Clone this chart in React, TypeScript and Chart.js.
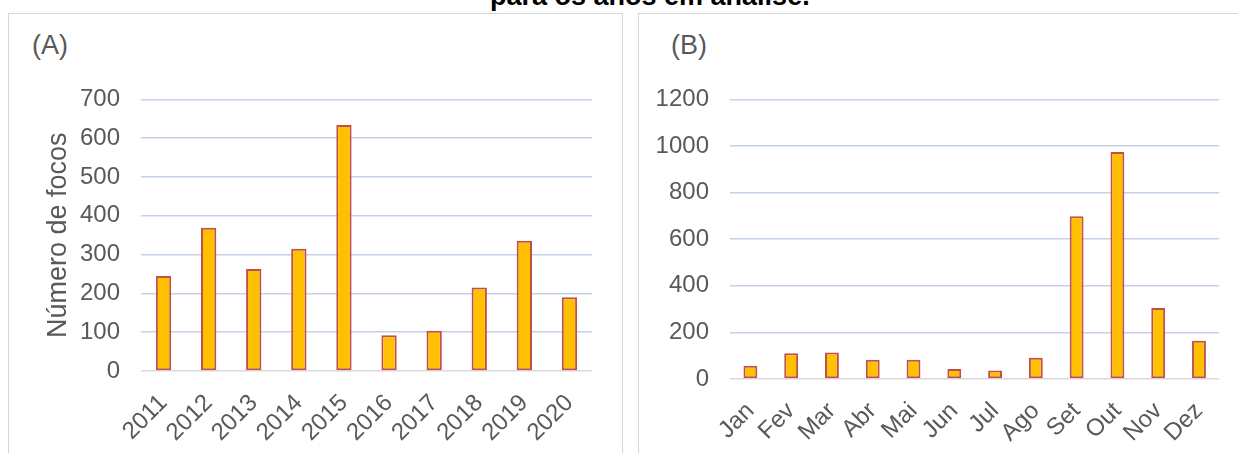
import React, { useEffect, useRef } from "react";
import Chart from "chart.js/auto";

// ---- Data ----
const anos: string[] = ["2011", "2012", "2013", "2014", "2015", "2016", "2017", "2018", "2019", "2020"];
const focosPorAno: number[] = [245, 369, 263, 315, 634, 92, 104, 215, 336, 190];

const meses: string[] = ["Jan", "Fev", "Mar", "Abr", "Mai", "Jun", "Jul", "Ago", "Set", "Out", "Nov", "Dez"];
const focosPorMes: number[] = [57, 110, 114, 83, 83, 43, 36, 91, 698, 974, 305, 164];

const yMaxAno = 700;
const yStepAno = 100;
const yMaxMes = 1200;
const yStepMes = 200;

const tituloY = "Número de focos";
const tituloFigura = "para os anos em análise.";

const FONT = "'Liberation Sans', Arial, Helvetica, sans-serif";
const TEXT = "#595959";

type Cfg = {
  labels: string[];
  values: number[];
  max: number;
  step: number;
  yTitle?: string;
  yWidth: number;
  xHeight: number;
  padRight: number;
  padTop: number;
};

function BarChart(props: Cfg & { style: React.CSSProperties; w: number; h: number }) {
  const ref = useRef<HTMLCanvasElement | null>(null);
  useEffect(() => {
    if (!ref.current) return;
    const c = props;
    const chart = new Chart(ref.current, {
      type: "bar",
      data: {
        labels: c.labels,
        datasets: [
          {
            data: c.values,
            backgroundColor: "#FFC000",
            borderColor: "#C0504D",
            borderWidth: 2,
            borderSkipped: false,
            barPercentage: 0.34,
            categoryPercentage: 1,
          },
        ],
      },
      options: {
        animation: false,
        responsive: false,
        devicePixelRatio: 1,
        events: [],
        layout: { padding: { left: 0, right: c.padRight, top: c.padTop, bottom: 0 } },
        plugins: { legend: { display: false }, tooltip: { enabled: false } },
        scales: {
          x: {
            grid: { display: false, drawTicks: false },
            border: { display: false },
            ticks: {
              autoSkip: false,
              minRotation: 45,
              maxRotation: 45,
              padding: 18,
              color: TEXT,
              font: { family: FONT, size: 24 },
            },
            afterFit: (s: any) => {
              s.height = c.xHeight;
            },
          },
          y: {
            min: 0,
            max: c.max,
            border: { display: false },
            grid: {
              drawTicks: false,
              lineWidth: 1.5,
              color: (ctx: any) => (ctx.tick && ctx.tick.value === 0 ? "#d9d9d9" : "#c3d2e7"),
            },
            ticks: {
              stepSize: c.step,
              padding: 21,
              color: TEXT,
              font: { family: FONT, size: 24 },
              callback: (v: any) => String(v),
            },
            title: {
              display: !!c.yTitle,
              text: c.yTitle || "",
              color: TEXT,
              font: { family: FONT, size: 27 },
              padding: { top: 32, bottom: 0 },
            },
            afterFit: (s: any) => {
              s.width = c.yWidth;
            },
          },
        },
      },
    });
    return () => chart.destroy();
  }, []);
  return <canvas ref={ref} width={props.w} height={props.h} style={{ ...props.style, width: props.w, height: props.h }} />;
}

export default function App() {
  const panelBase: React.CSSProperties = {
    position: "absolute",
    top: 13,
    height: 460,
    boxSizing: "border-box",
    border: "1.5px solid #d6d6d6",
    background: "#fff",
  };
  const label: React.CSSProperties = {
    position: "absolute",
    fontFamily: FONT,
    fontSize: 27,
    color: TEXT,
    lineHeight: "31px",
    whiteSpace: "nowrap",
  };
  return (
    <div
      style={{
        position: "fixed",
        left: 0,
        top: 0,
        width: 1238,
        height: 453,
        overflow: "hidden",
        background: "#fff",
      }}
    >
      <div
        style={{
          position: "absolute",
          left: 490,
          top: -19,
          fontFamily: FONT,
          fontWeight: "bold",
          fontSize: 27,
          lineHeight: "31px",
          color: "#000",
          whiteSpace: "nowrap",
        }}
      >
        {tituloFigura}
      </div>
      <div style={{ ...panelBase, left: 8, width: 615 }} />
      <div style={{ ...panelBase, left: 638, width: 700 }} />
      <div style={{ ...label, left: 32, top: 30 }}>(A)</div>
      <div style={{ ...label, left: 671, top: 30 }}>(B)</div>
      <BarChart
        style={{ position: "absolute", left: 10, top: 64 }}
        w={600}
        h={389}
        labels={anos}
        values={focosPorAno}
        max={yMaxAno}
        step={yStepAno}
        yTitle={tituloY}
        yWidth={131}
        xHeight={82}
        padRight={18}
        padTop={21}
      />
      <BarChart
        style={{ position: "absolute", left: 640, top: 64 }}
        w={598}
        h={389}
        labels={meses}
        values={focosPorMes}
        max={yMaxMes}
        step={yStepMes}
        yWidth={90}
        xHeight={74}
        padRight={16}
        padTop={21}
      />
    </div>
  );
}
